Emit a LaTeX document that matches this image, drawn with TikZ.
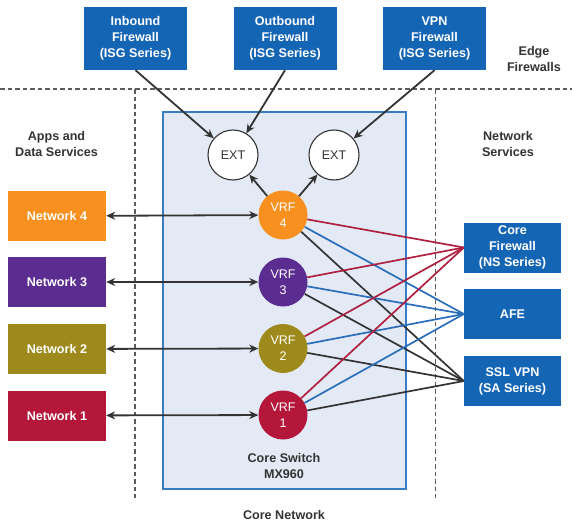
\documentclass[tikz,border=0pt]{standalone}
\usepackage{fontspec}
\setmainfont{Liberation Sans}
\usetikzlibrary{arrows.meta}
\definecolor{fwblue}{HTML}{1565B5}
\definecolor{corefill}{HTML}{E3EAF5}
\definecolor{coreline}{HTML}{3A7CC3}
\definecolor{norange}{HTML}{F7901E}
\definecolor{npurple}{HTML}{5C2D91}
\definecolor{nolive}{HTML}{9E8A1C}
\definecolor{nred}{HTML}{B5173A}
\definecolor{lred}{HTML}{B0203F}
\definecolor{lblue}{HTML}{2A6EBB}
\definecolor{ldark}{HTML}{333333}
\definecolor{txtdark}{HTML}{333333}
\begin{document}
\begin{tikzpicture}[x=1pt,y=-1pt,
  bluebox/.style={fill=fwblue, draw=none, text=white, font=\bfseries\fontsize{12.6}{16}\selectfont, align=center, inner sep=0pt},
  netbox/.style={fill=#1, draw=none, text=white, font=\bfseries\fontsize{12.6}{16}\selectfont, minimum width=98pt, minimum height=50pt, inner sep=0pt},
  vrf/.style={circle, fill=#1, draw=none, text=white, font=\fontsize{12.5}{16}\selectfont, align=center, minimum size=49pt, inner sep=0pt},
  extnode/.style={circle, fill=white, draw=ldark, line width=1.1pt, text=txtdark, font=\fontsize{12.5}{15}\selectfont, minimum size=50pt, inner sep=0pt},
  label/.style={text=txtdark, font=\bfseries\fontsize{12.6}{16}\selectfont, align=center},
  divider/.style={draw=ldark!80, line width=1.3pt, dash pattern=on 4.5pt off 3pt},
  arr/.style={draw=ldark, line width=1.8pt, -{Stealth[length=9pt,width=8pt]}},
  darr/.style={draw=ldark, line width=1.8pt, {Stealth[length=9pt,width=8pt]}-{Stealth[length=9pt,width=8pt]}},
  cline/.style={draw=#1, line width=1.7pt}
]
\useasboundingbox (0,0) rectangle (572,522);

% core box
\node[fill=corefill, draw=coreline, line width=1.1pt, minimum width=243pt, minimum height=377pt, inner sep=0pt] (core) at (284.5,300.5) {};

% dividers
\coordinate (hl) at (0,89);
\coordinate (hr) at (572,89);
\coordinate (v1t) at (135,89);
\coordinate (v1b) at (135,498);
\coordinate (v2t) at (435.5,89);
\coordinate (v2b) at (435.5,498);
\draw[divider] (hl) -- (hr);
\draw[divider] (v1t) -- (v1b);
\draw[divider] (v2t) -- (v2b);

% edge firewalls
\node[bluebox, minimum width=103pt, minimum height=63pt] (inb) at (135.5,38.5) {Inbound\\Firewall\\(ISG Series)};
\node[bluebox, minimum width=103pt, minimum height=63pt] (outb) at (285,38.5) {Outbound\\Firewall\\(ISG Series)};
\node[bluebox, minimum width=103pt, minimum height=63pt] (vpn) at (434.5,38.5) {VPN\\Firewall\\(ISG Series)};

% labels
\node[label] (edge) at (534,59) {Edge\\Firewalls};
\node[label] (apps) at (56.5,144) {Apps and\\Data Services};
\node[label] (nsv) at (508,144) {Network\\Services};
\node[label] (cs) at (284,466) {Core Switch\\MX960};
\node[label] (cn) at (284,515) {Core Network};

% EXT
\node[extnode] (ext1) at (233,155) {EXT};
\node[extnode] (ext2) at (334,155) {EXT};

% VRFs
\node[vrf=norange] (vrf4) at (283,215) {VRF\\4};
\node[vrf=npurple] (vrf3) at (283,282) {VRF\\3};
\node[vrf=nolive] (vrf2) at (283,348.5) {VRF\\2};
\node[vrf=nred] (vrf1) at (283,415) {VRF\\1};

% networks
\node[netbox=norange] (n4) at (57,216) {Network 4};
\node[netbox=npurple] (n3) at (57,282) {Network 3};
\node[netbox=nolive] (n2) at (57,349) {Network 2};
\node[netbox=nred] (n1) at (57,415.5) {Network 1};

% network services
\node[bluebox, minimum width=97pt, minimum height=50pt] (cfw) at (512.5,247.5) {Core\\Firewall\\(NS Series)};
\node[bluebox, minimum width=97pt, minimum height=50pt] (afe) at (512.5,314) {AFE};
\node[bluebox, minimum width=97pt, minimum height=50pt] (ssl) at (512.5,381) {SSL VPN\\(SA Series)};

% connections VRF -> services
\foreach \v in {vrf4,vrf3,vrf2,vrf1}{
  \draw[cline=lred] (\v) -- (cfw.west);
  \draw[cline=lblue] (\v) -- (afe.west);
  \draw[cline=ldark] (\v) -- (ssl.west);
}

% top arrows
\draw[arr] (inb.south) -- (ext1);
\draw[arr] (outb.south) -- (ext1);
\draw[arr] (vpn.south) -- (ext2);
\draw[arr] (vrf4) -- (ext1);
\draw[arr] (vrf4) -- (ext2);

% network arrows
\draw[darr] (n4) -- (vrf4);
\draw[darr] (n3) -- (vrf3);
\draw[darr] (n2) -- (vrf2);
\draw[darr] (n1) -- (vrf1);
\end{tikzpicture}
\end{document}
